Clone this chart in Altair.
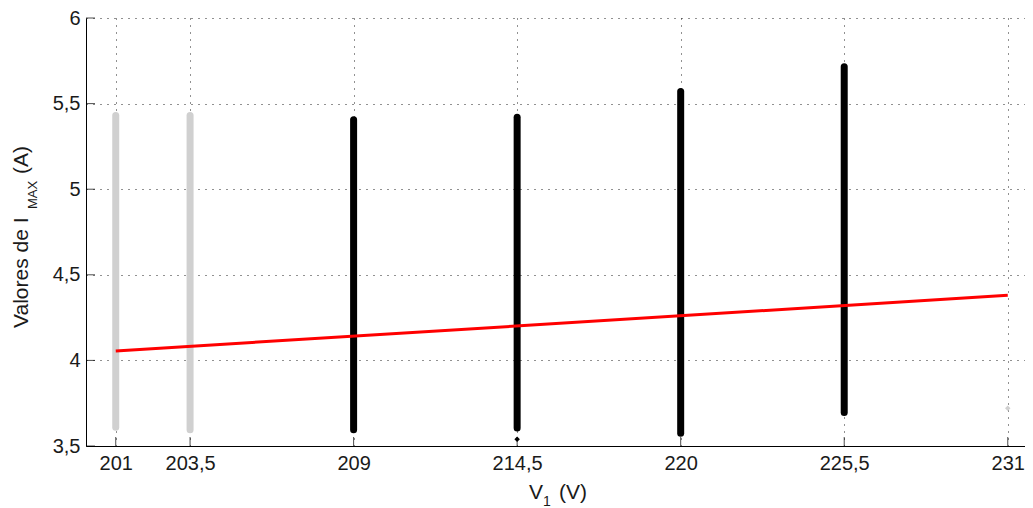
import altair as alt
import pandas as pd

# ---- data ----
x_ticks = [201, 203.5, 209, 214.5, 220, 225.5, 231]
y_ticks = [3.5, 4, 4.5, 5, 5.5, 6]

bar_v = [201, 203.5, 209, 214.5, 220, 225.5]
bar_min = [3.61, 3.595, 3.595, 3.605, 3.575, 3.695]
bar_max = [5.43, 5.43, 5.405, 5.42, 5.57, 5.715]
bar_group = ["gris", "gris", "negro", "negro", "negro", "negro"]

pt_v = [214.5, 231]
pt_i = [3.54, 3.72]
pt_group = ["negro", "gris"]

fit_v = [201, 231]
fit_i = [4.055, 4.38]

XDOM = [200, 231.58]
YDOM = [3.5, 6]

W, H = 939, 428
FONT = "Liberation Sans"

bars = pd.DataFrame({"v": bar_v, "lo": bar_min, "hi": bar_max, "g": bar_group})
pts = pd.DataFrame({"v": pt_v, "i": pt_i, "g": pt_group})
fit = pd.DataFrame({"v": fit_v, "i": fit_i})
xt = pd.DataFrame({"t": x_ticks})
yt = pd.DataFrame({"t": y_ticks})

xs = alt.Scale(domain=XDOM, nice=False, zero=False)
ys = alt.Scale(domain=YDOM, nice=False, zero=False)
cs = alt.Scale(domain=["gris", "negro"], range=["#d0d0d0", "#000000"])

lab = "replace(toString(datum.value), '.', ',')"
common = dict(
    title=None, grid=True, ticks=False, tickSize=0, domain=True,
    domainColor="#000000", domainWidth=1, labelFontSize=20, labelFont=FONT,
    labelColor="#1a1a1a", gridColor="#222222", gridDash=[1, 6], gridWidth=1,
    labelFlush=False, labelOverlap=False, labelExpr=lab,
)
xaxis = alt.Axis(values=x_ticks, labelPadding=7, **common)
yaxis = alt.Axis(values=y_ticks, labelPadding=6, **common)

rules = alt.Chart(bars).mark_rule(strokeWidth=7, strokeCap="round").encode(
    x=alt.X("v:Q", scale=xs, axis=xaxis),
    y=alt.Y("lo:Q", scale=ys, axis=yaxis),
    y2="hi:Q",
    color=alt.Color("g:N", scale=cs, legend=None),
)

points = alt.Chart(pts).mark_point(shape="diamond", filled=True, size=30, opacity=1).encode(
    x=alt.X("v:Q", scale=xs, axis=xaxis),
    y=alt.Y("i:Q", scale=ys, axis=yaxis),
    color=alt.Color("g:N", scale=cs, legend=None),
)

line = alt.Chart(fit).mark_line(color="#ff0000", strokeWidth=3).encode(
    x=alt.X("v:Q", scale=xs, axis=xaxis),
    y=alt.Y("i:Q", scale=ys, axis=yaxis),
)

xticks = alt.Chart(xt).mark_tick(size=9, thickness=1, color="#000000").encode(
    x=alt.X("t:Q", scale=xs, axis=xaxis),
    y=alt.value(H - 4.5),
)
yticks = alt.Chart(yt).mark_tick(size=9, thickness=1, color="#000000").encode(
    y=alt.Y("t:Q", scale=ys, axis=yaxis),
    x=alt.value(4.5),
)

def txt(s, x, y, size, angle=0, align="left"):
    return alt.Chart(pd.DataFrame({"s": [s]})).mark_text(
        font=FONT, fontSize=size, color="#1a1a1a", align=align,
        baseline="alphabetic", angle=angle,
    ).encode(text="s:N", x=alt.value(x), y=alt.value(y))

# y title: Valores de I_MAX (A)
yt1 = txt("Valores de I", -58, 310, 21, angle=270)
yt2 = txt("MAX", -49, 191, 13, angle=270)
yt3 = txt("(A)", -58, 156, 21, angle=270)
# x title: V_1 (V)
xt1 = txt("V", 443, 481, 21)
xt2 = txt("1", 457, 488, 14)
xt3 = txt("(V)", 473, 481, 21)

chart = alt.layer(
    rules, points, line, xticks, yticks, yt1, yt2, yt3, xt1, xt2, xt3
).properties(
    width=W, height=H,
    autosize=alt.AutoSizeParams(type="none"),
    padding={"left": 78, "top": 10, "right": 0, "bottom": 62},
).configure_view(stroke=None)

chart.save("out.html", embed_options={"renderer": "svg", "actions": False})
